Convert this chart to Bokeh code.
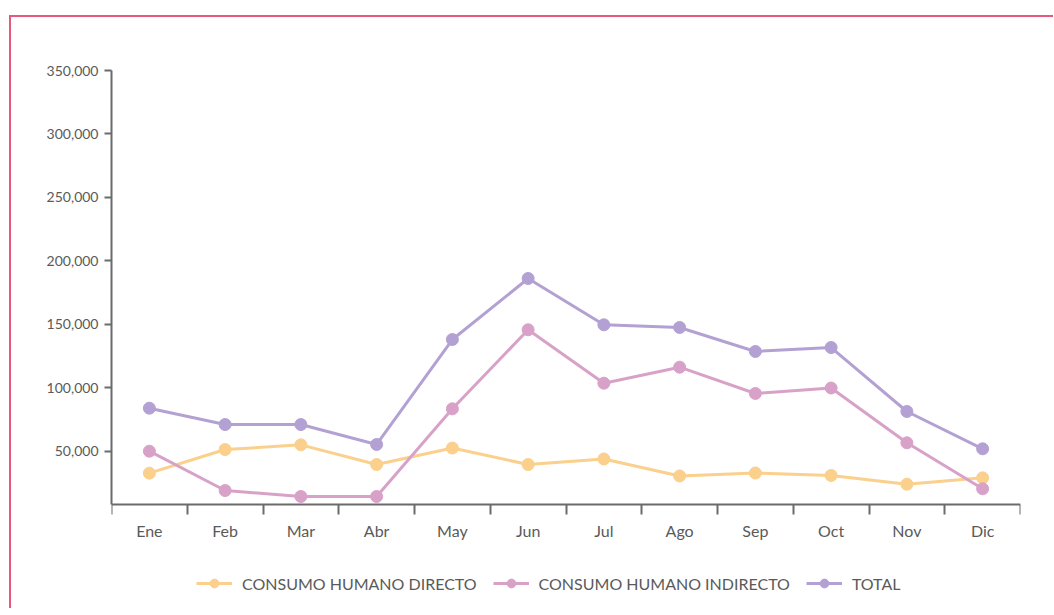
from bokeh.plotting import figure
from bokeh.layouts import column
from bokeh.models import (FixedTicker, Legend, LegendItem, NumeralTickFormatter, Range1d)
from bokeh.embed import file_html
from bokeh.resources import INLINE

months = ["Ene", "Feb", "Mar", "Abr", "May", "Jun", "Jul", "Ago", "Sep", "Oct", "Nov", "Dic"]
directo = [32700, 51300, 55000, 39500, 52500, 39500, 43900, 30500, 32800, 30900, 24000, 29000]
indirecto = [50000, 19000, 14300, 14300, 83400, 145700, 103600, 116200, 95500, 99800, 56600, 20400]
total = [83900, 71000, 71000, 55300, 138000, 186100, 149600, 147500, 128600, 131700, 81300, 51900]
y_ticks = [50000, 100000, 150000, 200000, 250000, 300000, 350000]
y_min, y_max = 8000, 350000

series = [
    ("CONSUMO HUMANO DIRECTO", directo, "#fad08c"),
    ("CONSUMO HUMANO INDIRECTO", indirecto, "#d8a2c8"),
    ("TOTAL", total, "#b3a1d3"),
]

FONT = "Lato"
AXIS_GRAY = "#6b6b6b"
TEXT_GRAY = "#5a5a5a"

# plot geometry (pixels): axis area height and full frame height (frame also hosts the legend)
AXIS_H = 434
FRAME_H = 534
y_start = y_min - (FRAME_H - AXIS_H) / AXIS_H * (y_max - y_min)

x = list(range(len(months)))

p = figure(frame_width=909, frame_height=FRAME_H, output_backend="svg", toolbar_location=None,
           x_range=Range1d(-0.5, len(months) - 0.5), y_range=Range1d(y_start, y_max),
           min_border_left=100, min_border_right=33, min_border_top=53, min_border_bottom=4)
p.outline_line_color = None
p.xgrid.grid_line_color = None
p.ygrid.grid_line_color = None

items = []
for name, vals, color in series:
    r1 = p.line(x, vals, line_color=color, line_width=3)
    r2 = p.scatter(x, vals, size=12, fill_color=color, line_color=color)
    items.append(LegendItem(label=name, renderers=[r1, r2]))

# x axis
xa = p.xaxis[0]
xa.fixed_location = y_min
xa.ticker = FixedTicker(ticks=x, minor_ticks=[i - 0.5 for i in range(len(months) + 1)])
xa.major_label_overrides = {i: m for i, m in enumerate(months)}
xa.major_tick_out = 0
xa.major_tick_in = 0
xa.minor_tick_out = 10
xa.minor_tick_in = 0
xa.minor_tick_line_color = AXIS_GRAY
xa.minor_tick_line_width = 2
xa.axis_line_color = AXIS_GRAY
xa.axis_line_width = 2
xa.major_label_text_font = FONT
xa.major_label_text_font_size = "16px"
xa.major_label_text_color = TEXT_GRAY
xa.major_label_standoff = 6

# y axis
ya = p.yaxis[0]
ya.bounds = (y_min, y_max)
ya.ticker = FixedTicker(ticks=y_ticks)
ya.formatter = NumeralTickFormatter(format="0,0")
ya.major_tick_out = 7
ya.major_tick_in = 0
ya.minor_tick_out = 0
ya.minor_tick_in = 0
ya.major_tick_line_color = AXIS_GRAY
ya.major_tick_line_width = 2
ya.axis_line_color = AXIS_GRAY
ya.axis_line_width = 2
ya.major_label_text_font = FONT
ya.major_label_text_font_size = "14px"
ya.major_label_text_color = TEXT_GRAY
ya.major_label_standoff = 6

legend = Legend(items=items, orientation="horizontal", location=(85, 10),
                glyph_width=36, glyph_height=22, label_standoff=10, spacing=16,
                label_text_font=FONT, label_text_font_size="16px",
                label_text_color=TEXT_GRAY, border_line_color=None,
                background_fill_alpha=0, margin=0, padding=4)
p.add_layout(legend, "center")

layout = column(p, styles={"border-top": "2px solid #e8587c",
                           "border-left": "2px solid #e8587c",
                           "margin-left": "9px", "margin-top": "15px"})

open("out.html", "w").write(file_html(layout, INLINE))
